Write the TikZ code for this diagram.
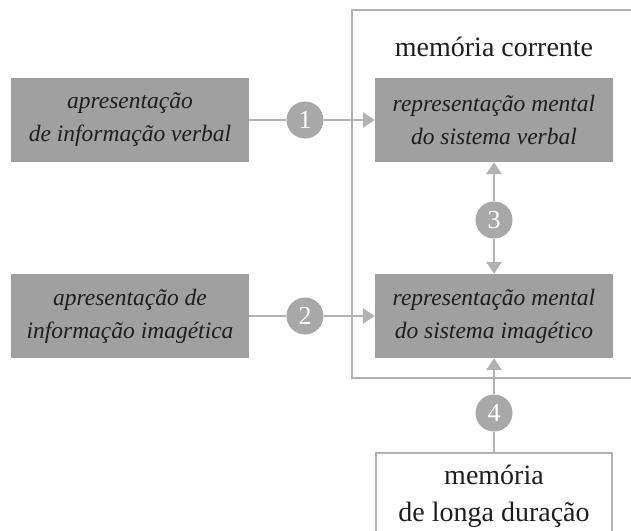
\documentclass[tikz,border=0pt]{standalone}
\usepackage{fontspec}
\setmainfont{Liberation Serif}
\usetikzlibrary{arrows.meta}
\definecolor{boxgray}{RGB}{160,160,160}
\definecolor{linegray}{RGB}{178,178,178}
\definecolor{circgray}{RGB}{168,168,168}
\definecolor{txt}{RGB}{30,30,30}
\tikzset{
  graybox/.style={fill=boxgray, draw=none, minimum width=238pt, minimum height=84pt, align=center, text=txt, font=\fontsize{23.5}{33}\selectfont\itshape, inner sep=0pt},
  outerbox/.style={draw=linegray, line width=2.8pt, fill=none, inner sep=0pt},
  numcirc/.style={circle, fill=circgray, minimum size=37pt, inner sep=0pt, text=white, font=\fontsize{26}{26}\selectfont},
  conn/.style={draw=linegray, line width=2.8pt},
  arr/.style={conn, -{Triangle[length=12pt,width=15pt]}},
}
\begin{document}
\begin{tikzpicture}[x=1pt,y=-1pt]
\useasboundingbox (0,0) rectangle (631,530);
\fill[white] (0,0) rectangle (631,530);
% outer memory frame
\node[outerbox, minimum width=281pt, minimum height=368pt] (mc) at (492.5,194) {};
\node[text=txt, font=\fontsize{28}{28}\selectfont, anchor=base] (mctitle) at (494,56) {memória corrente};
% boxes
\node[graybox] (av) at (130,120) {apresentação\\de informação verbal};
\node[graybox] (ai) at (130,316) {apresentação de\\informação imagética};
\node[graybox] (rv) at (494,120) {representação mental\\do sistema verbal};
\node[graybox] (ri) at (494,316) {representação mental\\do sistema imagético};
\node[draw=linegray, line width=2.8pt, minimum width=236pt, minimum height=92pt, inner sep=0pt] (ltm) at (494,499) {};
\node[text=txt, font=\fontsize{28}{37}\selectfont, align=center, anchor=north] (ltmtext) at (494,461) {memória\\de longa duração};
% circles
\node[numcirc] (c1) at (305,120) {1};
\node[numcirc] (c2) at (305,316) {2};
\node[numcirc] (c3) at (494,220) {3};
\node[numcirc] (c4) at (494,413) {4};
% connectors
\draw[conn] (av.east) -- (c1.west);
\draw[arr] (c1.east) -- (rv.west);
\draw[conn] (ai.east) -- (c2.west);
\draw[arr] (c2.east) -- (ri.west);
\draw[arr] (c3.north) -- (rv.south);
\draw[arr] (c3.south) -- (ri.north);
\draw[arr] (c4.north) -- (ri.south);
\draw[conn] (c4.south) -- (ltm.north);
\end{tikzpicture}
\end{document}
